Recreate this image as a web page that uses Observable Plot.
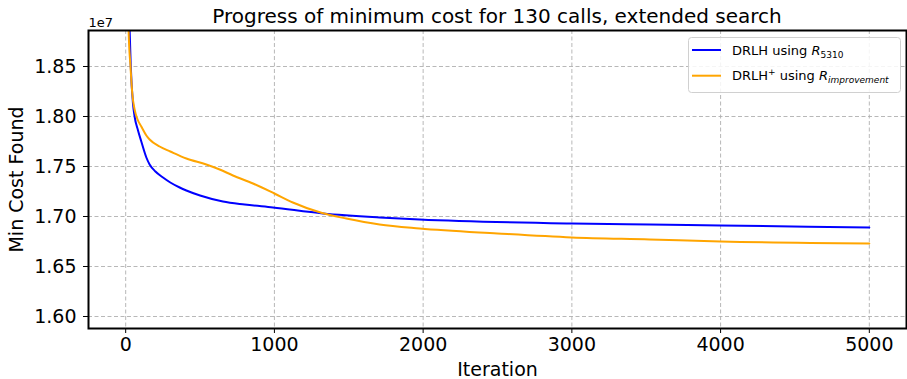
<!DOCTYPE html>
<html>
<head>
<meta charset="utf-8">
<script src="https://cdn.jsdelivr.net/npm/d3@7"></script>
<script src="https://cdn.jsdelivr.net/npm/@observablehq/plot@0.6"></script>
<style>
  body { margin: 0; background: white; }
  #wrap { position: relative; width: 907px; height: 379px; font-family: "DejaVu Sans", sans-serif; }
  #overlay { position: absolute; left: 0; top: 0; pointer-events: none; }
</style>
</head>
<body>
<div id="wrap"></div>
<script>
// Values in units of 1e7
const blueIter = [0, 15, 27, 34, 49, 60, 83, 105, 139, 161, 200, 251, 300, 363, 408, 500, 654, 800, 990, 1326, 1707, 1976, 3000, 3522, 4000, 5000];
const blueCost = [2.20, 1.95, 1.885, 1.851, 1.813, 1.800, 1.786, 1.775, 1.759, 1.752, 1.745, 1.739, 1.734, 1.729, 1.726, 1.721, 1.715, 1.712, 1.709, 1.703, 1.699, 1.697, 1.693, 1.692, 1.691, 1.689];

const orangeIter = [0, 12, 20, 32, 45, 60, 80, 105, 139, 161, 228, 300, 408, 542, 632, 721, 856, 1000, 1124, 1315, 1483, 1707, 1976, 2500, 3000, 3522, 4000, 5000];
const orangeCost = [2.20, 1.95, 1.885, 1.851, 1.822, 1.807, 1.797, 1.790, 1.781, 1.777, 1.770, 1.765, 1.758, 1.752, 1.747, 1.741, 1.733, 1.723, 1.714, 1.7037, 1.698, 1.692, 1.688, 1.683, 1.679, 1.677, 1.675, 1.673];

const xTicks = [0, 1000, 2000, 3000, 4000, 5000];
const yTicks = [1.60, 1.65, 1.70, 1.75, 1.80, 1.85];

const seriesColors = ["#0000ff", "#ffa500"];

const blueData = blueIter.map((x, i) => ({x, y: blueCost[i]}));
const orangeData = orangeIter.map((x, i) => ({x, y: orangeCost[i]}));

const W = 907, H = 379;
const chart = Plot.plot({
  width: W, height: H,
  marginLeft: 88, marginRight: 1, marginTop: 30, marginBottom: 51,
  x: {domain: [-250, 5250]},
  y: {domain: [1.588, 1.886]},
  style: {fontFamily: "DejaVu Sans", fontSize: "19px", color: "black", background: "white"},
  marks: [
    Plot.gridX(xTicks, {stroke: "#b0b0b0", strokeOpacity: 1, strokeWidth: 0.9, strokeDasharray: "4,2.5"}),
    Plot.gridY(yTicks, {stroke: "#b0b0b0", strokeOpacity: 1, strokeWidth: 0.9, strokeDasharray: "4,2.5"}),
    Plot.line(blueData, {x: "x", y: "y", stroke: seriesColors[0], strokeWidth: 2, curve: "monotone-x", clip: true}),
    Plot.line(orangeData, {x: "x", y: "y", stroke: seriesColors[1], strokeWidth: 2, curve: "monotone-x", clip: true}),
    Plot.frame({stroke: "black", strokeWidth: 2}),
    Plot.axisX(xTicks, {tickSize: 5, tickPadding: 4, fontSize: 19, tickFormat: d => String(d), label: "Iteration", labelAnchor: "center", labelArrow: "none", labelOffset: 47}),
    Plot.axisY(yTicks, {tickSize: 5, tickPadding: 7, fontSize: 19, tickFormat: d => d.toFixed(2), label: "Min Cost Found", labelAnchor: "center", labelArrow: "none", labelOffset: 79}),
    Plot.text(["1e7"], {frameAnchor: "top-left", dy: -4, lineAnchor: "bottom", textAnchor: "start", fontSize: 13})
  ]
});
const wrap = document.getElementById("wrap");
wrap.appendChild(chart);

// Overlay: title and legend
const ov = d3.select(wrap).append("svg").attr("id", "overlay").attr("width", W).attr("height", H)
  .attr("font-family", "DejaVu Sans");
ov.append("text").attr("x", 497).attr("y", 23).attr("text-anchor", "middle").attr("font-size", 20)
  .text("Progress of minimum cost for 130 calls, extended search");

const lg = ov.append("g");
lg.append("rect").attr("x", 688.5).attr("y", 37.5).attr("width", 212).attr("height", 55).attr("rx", 3)
  .attr("fill", "white").attr("fill-opacity", 0.85).attr("stroke", "#d0d0d0").attr("stroke-width", 1);
const rowsY = [50, 75.7];
rowsY.forEach((y, i) => {
  lg.append("line").attr("x1", 692).attr("x2", 721).attr("y1", y).attr("y2", y)
    .attr("stroke", seriesColors[i]).attr("stroke-width", 2);
});
// row 1
const t1 = lg.append("text").attr("x", 732).attr("y", rowsY[0] + 4.7).attr("font-size", 13);
t1.append("tspan").text("DRLH using ");
t1.append("tspan").attr("font-style", "italic").text("R");
t1.append("tspan").attr("font-size", 9).attr("dy", 3).text("5310");
// row 2
const t2 = lg.append("text").attr("x", 732).attr("y", rowsY[1] + 4.7).attr("font-size", 13);
t2.append("tspan").text("DRLH");
t2.append("tspan").attr("font-size", 9).attr("dy", -5).text("+");
t2.append("tspan").attr("dy", 5).text(" using ");
t2.append("tspan").attr("font-style", "italic").text("R");
t2.append("tspan").attr("font-size", 9).attr("font-style", "italic").attr("dy", 3).text("improvement");
</script>
</body>
</html>
